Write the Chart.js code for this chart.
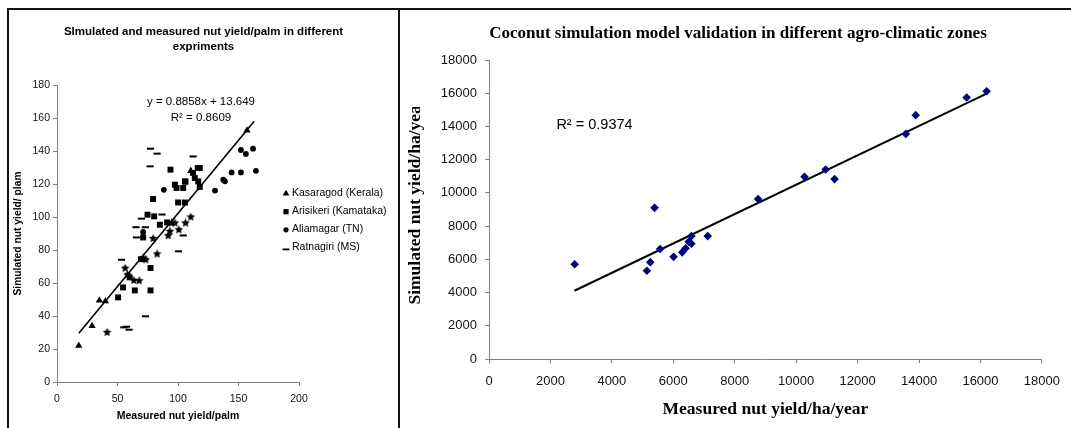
<!DOCTYPE html>
<html>
<head>
<meta charset="utf-8">
<title>Coconut yield: simulated vs measured</title>
<script src="https://cdn.jsdelivr.net/npm/chart.js@4.4.1/dist/chart.umd.min.js"></script>
<style>
  html, body { margin: 0; padding: 0; background: #fff; }
  #page { position: relative; width: 1071px; height: 428px; overflow: hidden; }
  .frame { position: absolute; border-left: 2px solid #111; border-top: 2px solid #111; }
  #frameLeft { left: 7px; top: 8px; width: 392px; height: 440px; }
  #frameRight { left: 398px; top: 8px; width: 690px; height: 440px; }
  #leftCanvas { position: absolute; left: 8px; top: 0; }
  #rightCanvas { position: absolute; left: 400px; top: 0; }
</style>
</head>
<body>
<div id="page">
  <div class="frame" id="frameLeft"></div>
  <div class="frame" id="frameRight"></div>
  <canvas id="leftCanvas" width="391" height="428"></canvas>
  <canvas id="rightCanvas" width="671" height="428"></canvas>
</div>
<script>
// ---- left panel: nut yield per palm, four locations ----
const kasaragodX = [18, 29, 35, 40, 110.6, 157];
const kasaragodY = [22, 34, 49.5, 49, 128, 152.5];

const arisikeriX = [93.8, 116.3, 118, 112.5, 113.9, 116.7, 118, 106.2, 97.4, 98.8, 105.7, 104.3, 79.4, 100.1, 105.7,
                    74.8, 80.3, 71.2, 85, 91, 69.4, 77.3, 60.1, 54.6, 64.3, 77.3, 50.5];
const arisikeriY = [128.7, 129.7, 129.7, 126.7, 123.6, 121.6, 118.2, 121.4, 119.6, 117.6, 121.6, 117.6, 110.9, 108.8, 108.8,
                    101.4, 100.4, 87.6, 95.3, 96.7, 74.4, 69.1, 63.4, 57.3, 55.5, 55.5, 51.3];

const aliarnagarX = [88.3, 71.2, 130.6, 137.4, 138.8, 144.3, 152, 164.4, 152, 156.1, 162];
const aliarnagarY = [116.5, 90.9, 116, 122.6, 121.6, 127, 127, 128, 140.6, 138.2, 141.4];

const ratnagiriX = [77.3, 82.7, 77, 112.5, 86.8, 69.8, 73, 65.3, 65.7, 104.3, 100.4, 53.3, 55.2, 57.4, 59.6, 73.1];
const ratnagiriY = [141.4, 138.4, 130.7, 136.7, 101.5, 99, 93.8, 93.8, 87.6, 88.8, 79.2, 74.1, 33.1, 33.5, 31.7, 39.8];

// star markers in the plot that have no legend entry
const otherX = [41.4, 56.3, 58.2, 63.5, 67.9, 71.2, 73.4, 82.7, 79.4, 91.9, 93.3, 100.7, 94.7, 97.4, 106.2, 110.6];
const otherY = [30.1, 69, 65, 61.6, 61.4, 75.2, 74.1, 77.6, 87, 88.7, 91.3, 92.3, 96.4, 96.4, 96.4, 100];

const leftLegend = ['Kasaragod (Kerala)', 'Arisikeri (Kamataka)', 'Aliamagar (TN)', 'Ratnagiri (MS)'];
const leftTrendX = [18, 163];
const leftTrendY = [29.6, 158.0];
const leftXTicks = [0, 50, 100, 150, 200];
const leftYTicks = [0, 20, 40, 60, 80, 100, 120, 140, 160, 180];

// ---- right panel: nut yield per ha per year ----
const measuredYield = [2790, 5140, 5250, 5390, 5570, 6010, 6290, 6400, 6500, 6590, 6590, 7120,
                       8760, 10270, 10960, 11250, 13570, 13890, 15550, 16200];
const simulatedYield = [5700, 5310, 5830, 9100, 6620, 6150, 6420, 6660, 7060, 7400, 6940, 7400,
                        9630, 10970, 11410, 10830, 13550, 14680, 15740, 16120];
const rightTrendX = [2780, 16200];
const rightTrendY = [4110, 15980];
const rightTicks = [0, 2000, 4000, 6000, 8000, 10000, 12000, 14000, 16000, 18000];

const SANS = "'Liberation Sans', Arial, sans-serif";
const SERIF = "'Liberation Serif', 'Times New Roman', serif";

const toPoints = (xs, ys) => xs.map((x, i) => ({ x: x, y: ys[i] }));

// small filled star used as a point style
function makeStar(size) {
  const c = document.createElement('canvas');
  c.width = c.height = size;
  const g = c.getContext('2d');
  g.fillStyle = '#000';
  g.beginPath();
  for (let i = 0; i < 10; i++) {
    const r = i % 2 ? size * 0.24 : size / 2;
    const a = -Math.PI / 2 + i * Math.PI / 5;
    g.lineTo(size / 2 + r * Math.cos(a), size / 2 + r * Math.sin(a));
  }
  g.closePath();
  g.fill();
  return c;
}

function axisOpts(min, max, ticks, fontSize, pad) {
  return {
    type: 'linear', min: min, max: max,
    afterBuildTicks: s => { s.ticks = ticks.map(v => ({ value: v })); },
    ticks: { font: { family: SANS, size: fontSize }, color: '#111', padding: pad,
             autoSkip: false, maxRotation: 0, callback: v => String(v) },
    grid: { drawOnChartArea: false, drawTicks: true, tickLength: 4, color: '#808080' },
    border: { color: '#808080', width: 1 }
  };
}

// titles, equation and legend of the left panel
const leftText = {
  id: 'leftText',
  afterDraw(chart) {
    const ctx = chart.ctx;
    const xs = chart.scales.x, ys = chart.scales.y;
    ctx.save();
    ctx.fillStyle = '#000';
    ctx.textBaseline = 'middle';
    ctx.textAlign = 'center';
    ctx.font = 'bold 11.5px ' + SANS;
    ctx.fillText('SImulated and measured nut yield/palm in different', 195.5, 31.5);
    ctx.fillText('expriments', 195.5, 46.5);

    ctx.font = '11.5px ' + SANS;
    ctx.fillText('y = 0.8858x + 13.649', xs.getPixelForValue(119), ys.getPixelForValue(170));
    ctx.fillText('R\u00B2 = 0.8609', xs.getPixelForValue(119), ys.getPixelForValue(160.4));

    const rows = [193, 211.5, 229.5, 247.5];
    const mx = 278;
    ctx.textAlign = 'left';
    ctx.font = '10.5px ' + SANS;
    leftLegend.forEach((label, i) => {
      const y = rows[i];
      ctx.beginPath();
      if (i === 0) {
        ctx.moveTo(mx, y - 3.2); ctx.lineTo(mx + 3.4, y + 2.6); ctx.lineTo(mx - 3.4, y + 2.6); ctx.closePath(); ctx.fill();
      } else if (i === 1) {
        ctx.fillRect(mx - 2.6, y - 2.4, 5.2, 5.2);
      } else if (i === 2) {
        ctx.arc(mx, y + 0.3, 2.6, 0, Math.PI * 2); ctx.fill();
      } else {
        ctx.fillRect(mx - 3.4, y + 1, 6.8, 1.8);
      }
      ctx.fillText(label, mx + 6, y);
    });
    ctx.restore();
  }
};

new Chart(document.getElementById('leftCanvas'), {
  type: 'scatter',
  data: {
    datasets: [
      { label: leftLegend[0], data: toPoints(kasaragodX, kasaragodY), pointStyle: 'triangle',
        pointRadius: 4.2, backgroundColor: '#000', borderColor: '#000', borderWidth: 0 },
      { label: leftLegend[1], data: toPoints(arisikeriX, arisikeriY), pointStyle: 'rect',
        pointRadius: 4.2, backgroundColor: '#000', borderColor: '#000', borderWidth: 0 },
      { label: leftLegend[2], data: toPoints(aliarnagarX, aliarnagarY), pointStyle: 'circle',
        pointRadius: 2.9, backgroundColor: '#000', borderColor: '#000', borderWidth: 0 },
      { label: leftLegend[3], data: toPoints(ratnagiriX, ratnagiriY), pointStyle: 'line',
        pointRadius: 3.6, backgroundColor: '#000', borderColor: '#000', borderWidth: 2 },
      { label: 'other', data: toPoints(otherX, otherY), pointStyle: makeStar(9),
        pointRadius: 4.5, backgroundColor: '#000', borderColor: '#000' },
      { label: 'trend', data: toPoints(leftTrendX, leftTrendY), showLine: true, pointRadius: 0,
        borderColor: '#000', borderWidth: 1.6 }
    ]
  },
  options: {
    responsive: false,
    animation: false,
    layout: { padding: { left: 0, right: 100, top: 85, bottom: 0 } },
    plugins: { legend: { display: false }, tooltip: { enabled: false } },
    scales: {
      x: Object.assign(axisOpts(0, 200, leftXTicks, 10.5, 7), {
        title: { display: true, text: 'Measured nut yield/palm', color: '#000',
                 font: { family: SANS, size: 10.5, weight: 'bold' }, padding: { top: 0, bottom: 6 } },
        afterFit: s => { s.height = 46; }
      }),
      y: Object.assign(axisOpts(0, 180, leftYTicks, 10.5, 3), {
        title: { display: true, text: 'Simulated nut yield/ plam', color: '#000',
                 font: { family: SANS, size: 10.3, weight: 'bold' }, padding: { top: 3.5, bottom: 0 } },
        afterFit: s => { s.width = 49; }
      })
    }
  },
  plugins: [leftText]
});

// title, y axis title (cut at the top, as in the original) and R² of the right panel
const rightText = {
  id: 'rightText',
  afterDraw(chart) {
    const ctx = chart.ctx;
    const xs = chart.scales.x, ys = chart.scales.y;
    ctx.save();
    ctx.fillStyle = '#000';
    ctx.textBaseline = 'middle';
    ctx.textAlign = 'center';
    ctx.font = 'bold 17px ' + SERIF;
    ctx.fillText('Coconut simulation model validation in different agro-climatic zones', 338, 34);

    ctx.save();
    ctx.beginPath();
    ctx.rect(0, 107, 40, 300);
    ctx.clip();
    ctx.translate(15, 201);
    ctx.rotate(-Math.PI / 2);
    ctx.font = 'bold 17.5px ' + SERIF;
    ctx.fillText('Simulated nut yield/ha/year', 0, 0);
    ctx.restore();

    ctx.textAlign = 'left';
    ctx.font = '14.5px ' + SANS;
    ctx.fillText('R\u00B2 = 0.9374', xs.getPixelForValue(2194), ys.getPixelForValue(14075));
    ctx.restore();
  }
};

new Chart(document.getElementById('rightCanvas'), {
  type: 'scatter',
  data: {
    datasets: [
      { label: 'Simulated vs measured', data: toPoints(measuredYield, simulatedYield), pointStyle: 'rectRot',
        pointRadius: 4.3, backgroundColor: '#000080', borderColor: '#000080', borderWidth: 0 },
      { label: 'trend', data: toPoints(rightTrendX, rightTrendY), showLine: true, pointRadius: 0,
        borderColor: '#000', borderWidth: 2 }
    ]
  },
  options: {
    responsive: false,
    animation: false,
    layout: { padding: { left: 0, right: 24, top: 60, bottom: 0 } },
    plugins: { legend: { display: false }, tooltip: { enabled: false } },
    scales: {
      x: Object.assign(axisOpts(0, 18000, rightTicks, 13, 11), {
        title: { display: true, text: 'Measured nut yield/ha/year', color: '#000',
                 font: { family: SERIF, size: 17.5, weight: 'bold' }, padding: { top: 0, bottom: 8.5 } },
        afterFit: s => { s.height = 69; }
      }),
      y: Object.assign(axisOpts(0, 18000, rightTicks, 13, 8), {
        afterFit: s => { s.width = 89; }
      })
    }
  },
  plugins: [rightText]
});
</script>
</body>
</html>
